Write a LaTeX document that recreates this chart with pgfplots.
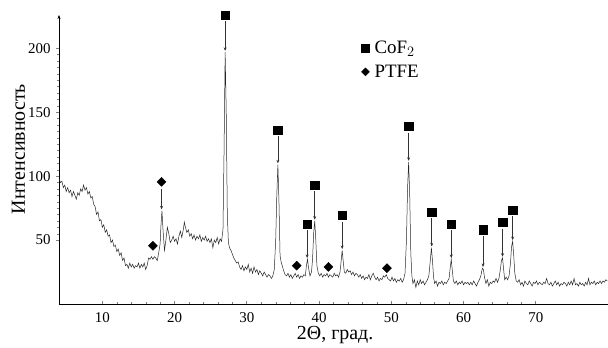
\documentclass[border=0pt]{standalone}
\usepackage{fontspec}
\setmainfont{Liberation Serif}
\usepackage{pgfplots}
\pgfplotsset{compat=1.18}
\usetikzlibrary{arrows.meta}
\pgfplotstableread{
x y
4.0 98
4.2 95
4.4 96
4.6 91
4.8 93
5.0 88
5.2 91
5.4 87
5.6 89
5.8 84
6.0 88
6.2 85
6.4 82
6.6 87
6.8 85
7.0 90
7.2 88
7.4 93
7.6 89
7.8 91
8.0 86
8.2 88
8.4 83
8.6 84
8.8 78
9.0 76
9.2 70
9.4 72
9.6 65
9.8 66
10.0 60
10.2 62
10.4 56
10.6 58
10.8 53
11.0 54
11.2 48
11.4 50
11.6 45
11.8 46
12.0 41
12.2 43
12.4 38
12.6 40
12.8 34
13.0 36
13.2 30
13.4 31
13.6 28
13.8 32
14.0 29
14.2 31
14.4 28
14.6 30
14.8 29
15.0 32
15.2 28
15.4 31
15.6 29
15.8 32
16.0 27
16.2 30
16.4 36
16.6 35
16.8 37
17.0 35
17.2 37
17.4 36
17.6 34
17.8 40
18.0 47
18.1 60
18.25 73
18.4 58
18.6 42
18.8 50
19.0 60
19.2 55
19.4 48
19.6 50
19.8 53
20.0 49
20.2 51
20.4 47
20.6 53
20.8 57
21.0 52
21.2 58
21.35 64
21.5 60
21.7 56
21.9 58
22.1 53
22.3 55
22.5 51
22.7 54
22.9 50
23.1 53
23.3 51
23.5 54
23.7 49
23.9 52
24.1 50
24.3 53
24.5 49
24.7 51
24.9 48
25.1 51
25.3 44
25.5 50
25.7 48
25.9 52
26.1 47
26.3 51
26.5 49
26.7 58
26.85 120
27.0 197
27.15 150
27.3 70
27.45 48
27.6 44
27.8 42
28.0 39
28.2 36
28.4 34
28.6 32
28.8 33
29.0 29
29.2 27
29.4 30
29.6 26
29.8 29
30.0 27
30.2 31
30.4 25
30.6 28
30.8 24
31.0 29
31.2 25
31.4 27
31.6 23
31.8 26
32.0 24
32.2 22
32.4 25
32.6 23
32.8 21
33.0 23
33.2 22
33.4 20
33.6 22
33.8 27
34.0 50
34.15 85
34.3 109
34.45 80
34.6 38
34.75 33
34.9 30
35.1 26
35.3 23
35.5 22
35.7 24
35.9 21
36.1 23
36.3 20
36.5 22
36.7 24
36.9 21
37.1 23
37.3 20
37.5 22
37.7 21
37.9 23
38.1 22
38.25 30
38.4 35
38.55 28
38.75 22
38.95 25
39.1 35
39.25 55
39.4 65
39.55 50
39.7 30
39.9 24
40.1 22
40.3 24
40.5 21
40.7 23
40.9 22
41.1 24
41.3 21
41.5 23
41.7 22
41.9 21
42.1 24
42.3 22
42.5 23
42.7 21
42.9 25
43.05 33
43.2 42
43.35 33
43.5 25
43.7 24
43.9 27
44.1 25
44.3 26
44.5 23
44.7 25
44.9 22
45.1 24
45.3 23
45.5 21
45.7 23
45.9 20
46.1 22
46.3 19
46.5 21
46.7 20
46.9 23
47.1 19
47.3 22
47.5 24
47.7 21
47.9 19
48.1 21
48.3 18
48.5 20
48.7 19
48.9 22
49.1 21
49.3 23
49.5 20
49.7 19
49.9 18
50.1 21
50.3 18
50.5 20
50.7 17
50.9 19
51.1 18
51.3 20
51.5 17
51.7 19
51.9 24
52.1 50
52.25 90
52.4 111
52.55 85
52.7 40
52.85 22
53.0 16
53.2 19
53.4 13
53.6 18
53.8 15
54.0 19
54.2 16
54.4 18
54.6 15
54.8 17
55.0 19
55.2 22
55.4 34
55.55 44
55.7 34
55.85 21
56.0 16
56.2 18
56.4 14
56.6 17
56.8 16
57.0 18
57.2 15
57.4 17
57.6 16
57.8 18
58.0 20
58.15 28
58.3 35
58.45 26
58.6 18
58.8 16
59.0 18
59.2 15
59.4 17
59.6 16
59.8 18
60.0 15
60.2 17
60.4 16
60.6 17
60.8 15
61.0 17
61.2 15
61.4 18
61.6 16
61.8 14
62.0 17
62.2 19
62.4 22
62.6 28
62.75 27
62.9 21
63.1 16
63.3 19
63.5 14
63.7 17
63.9 16
64.1 18
64.3 17
64.5 20
64.7 17
64.9 20
65.1 27
65.25 34
65.4 36
65.55 27
65.7 19
65.9 21
66.1 19
66.3 22
66.5 32
66.65 45
66.8 49
66.95 38
67.1 24
67.3 18
67.5 17
67.7 19
67.9 15
68.1 17
68.3 14
68.5 18
68.7 16
68.9 15
69.1 18
69.3 16
69.5 14
69.7 17
69.9 16
70.1 18
70.3 15
70.5 17
70.7 16
70.9 15
71.1 17
71.3 16
71.5 20
71.7 16
71.9 15
72.1 17
72.3 14
72.5 16
72.7 18
72.9 15
73.1 17
73.3 14
73.5 16
73.7 15
73.9 17
74.1 16
74.3 14
74.5 17
74.7 15
74.9 18
75.1 15
75.3 20
75.5 15
75.7 16
75.9 14
76.1 17
76.3 15
76.5 16
76.7 14
76.9 17
77.1 15
77.3 20
77.5 15
77.7 17
77.9 16
78.1 18
78.3 15
78.5 17
78.7 16
78.9 18
79.1 16
79.3 18
79.5 17
79.7 19
79.9 18
}\xrd
\pgfplotstableread{
x y
27.0 226
34.3 136
38.35 62.5
39.4 93
43.2 69.5
52.4 139
55.6 72
58.3 62.5
62.7 58
65.4 64
66.8 73.5
}\cof
\pgfplotstableread{
x y
17.0 45.5
18.2 95.5
36.9 30
41.3 29
49.4 28
}\ptfe
\begin{document}
\begin{tikzpicture}
\begin{axis}[
  name=ax,
  scale only axis,
  width=549bp, height=289bp,
  xmin=4, xmax=80, ymin=0, ymax=226,
  axis x line=bottom, axis y line=left,
  x axis line style={-},
  y axis line style={-{Stealth[length=4pt,width=3pt]}},
  xtick={10,20,30,40,50,60,70},
  ytick={50,100,150,200},
  minor x tick num=4,
  minor y tick num=9,
  xtick align=inside,
  ytick align=outside,
  major tick length=3pt,
  minor tick length=2pt,
  every major tick/.style={line width=0.8pt},
  every minor tick/.style={line width=0.3pt},
  /pgf/number format/assume math mode=true,
  xticklabel={\pgfmathprintnumber[assume math mode=true]{\tick}},
  yticklabel={\pgfmathprintnumber[assume math mode=true]{\tick}},
  tick label style={font=\fontsize{15}{17}\selectfont},
  xticklabel style={yshift=-5pt},
  yticklabel style={xshift=-2pt},
  xlabel={2Θ, град.},
  ylabel={Интенсивность},
  label style={font=\fontsize{20}{22}\selectfont},
  xlabel style={at={(axis description cs:0.503,-0.124)}, anchor=base},
  ylabel style={at={(axis description cs:-0.074,0.536)}, anchor=center, rotate=0},
  clip=false,
  legend style={at={(axis cs:45.4,209)}, anchor=north west, draw=none, fill=none,
    font=\fontsize{19}{21}\selectfont, row sep=6pt,
    legend cell align=left},
]
\addlegendimage{only marks, mark=square*, mark size=4.2pt, black}
\addlegendentry{\hspace{3pt}CoF$_2$}
\addlegendimage{only marks, mark=square*, mark size=2.8pt, mark options={rotate=45}, black}
\addlegendentry{\hspace{3pt}PTFE}
\addplot[black!85, line width=0.5pt, forget plot] table {\xrd};
\addplot[only marks, mark=square*, mark size=4.2pt, black, forget plot] table {\cof};
\addplot[only marks, mark=square*, mark size=3.2pt, mark options={rotate=45}, black, forget plot] table {\ptfe};
\pgfplotsset{arr/.style={black!80, line width=0.5pt, -{Stealth[length=3.5pt,width=3pt]}, forget plot}}
\addplot[arr] coordinates {(27.0,221) (27.0,198)};
\addplot[arr] coordinates {(34.3,131) (34.3,110)};
\addplot[arr] coordinates {(38.35,57.5) (38.35,36)};
\addplot[arr] coordinates {(39.4,88) (39.4,66)};
\addplot[arr] coordinates {(43.2,64.5) (43.2,43)};
\addplot[arr] coordinates {(52.4,134) (52.4,112)};
\addplot[arr] coordinates {(55.6,67) (55.6,45)};
\addplot[arr] coordinates {(58.3,57.5) (58.3,36)};
\addplot[arr] coordinates {(62.7,53) (62.7,29)};
\addplot[arr] coordinates {(65.4,59) (65.4,37)};
\addplot[arr] coordinates {(66.8,68.5) (66.8,50)};
\addplot[arr] coordinates {(18.2,90) (18.2,74)};
\end{axis}
\pgfresetboundingbox
\path[use as bounding box] ([xshift=-59bp,yshift=-43bp]ax.south west) rectangle ([yshift=15bp]ax.north east);
\end{tikzpicture}
\end{document}
